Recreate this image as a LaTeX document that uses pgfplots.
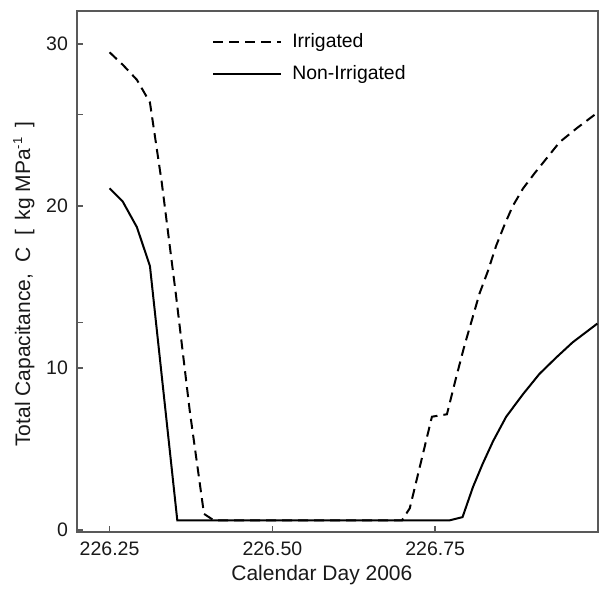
\documentclass[border=0pt]{standalone}
\usepackage{fontspec}
\setmainfont{Liberation Sans}
\usepackage{pgfplots}
\pgfplotsset{compat=1.18}
\begin{document}
\begin{tikzpicture}
\begin{axis}[
  scale only axis,
  width=260.5pt, height=260.5pt,
  xmin=226.2, xmax=227.0,
  ymin=-0.12, ymax=32.05,
  axis line style={draw=black!65, line width=0.8pt},
  tick style={draw=black!65, line width=0.7pt},
  tick align=inside,
  tick pos=left,
  major tick length=3pt,
  xtick={226.25,226.5,226.75},
  xticklabels={226.25,226.50,226.75},
  ytick={0,10,20,30},
  extra y ticks={12.8,25.65},
  extra y tick labels={},
  /pgf/number format/assume math mode=true,
  ticklabel style={font=\fontsize{9.75}{11}\selectfont, text=black!90},
  xticklabel style={yshift=-1.5pt},
  yticklabel style={xshift=-1pt},
  xlabel={Calendar Day 2006},
  ylabel={Total Capacitance,\ \ C\ \ [\, kg MPa$^{\mbox{\fontsize{6.5}{7}\selectfont -1}}$\, ]},
  label style={font=\fontsize{10.5}{12}\selectfont, text=black!90},
  xlabel style={at={(rel axis cs:0.47,-0.083)}, anchor=center},
  ylabel style={at={(rel axis cs:-0.102,0.476)}, anchor=center},
  legend style={at={(rel axis cs:0.259,0.965)}, anchor=north west, draw=none, fill=none,
    font=\fontsize{9.7}{11}\selectfont, row sep=3.5pt, inner sep=0pt,
    nodes={inner xsep=5pt}},
  legend cell align=left,
  legend image code/.code={\draw[#1] (0pt,0pt) -- (34pt,0pt);},
]
\addplot[black, line width=1pt, dash pattern=on 5pt off 3pt] coordinates {
(226.25,29.5) (226.271,28.7) (226.292,27.8) (226.312,26.4)
(226.33,21.5) (226.352,14.5) (226.373,7.4) (226.395,1.0) (226.41,0.6)
(226.699,0.6) (226.711,1.35) (226.745,7.0) (226.768,7.15)
(226.782,9.4) (226.795,11.4) (226.808,13.2) (226.818,14.6)
(226.831,16.0) (226.844,17.6) (226.857,18.9) (226.869,20.0)
(226.885,21.1) (226.903,22.05) (226.921,22.95) (226.941,23.95)
(226.967,24.8) (226.995,25.65)
};
\addlegendentry{Irrigated}
\addplot[black, line width=1pt] coordinates {
(226.25,21.1) (226.27,20.3) (226.292,18.7) (226.312,16.3)
(226.354,0.6) (226.772,0.6) (226.792,0.8) (226.808,2.66)
(226.823,4.1) (226.839,5.5) (226.859,7.0) (226.885,8.4)
(226.910,9.64) (226.936,10.66) (226.961,11.59) (226.999,12.75)
};
\addlegendentry{Non-Irrigated}
\coordinate (bl) at (rel axis cs:-0.1478,-0.1228);
\coordinate (tr) at (rel axis cs:1.0038,1.0211);
\end{axis}
\pgfresetboundingbox
\useasboundingbox (bl) rectangle (tr);
\end{tikzpicture}
\end{document}
